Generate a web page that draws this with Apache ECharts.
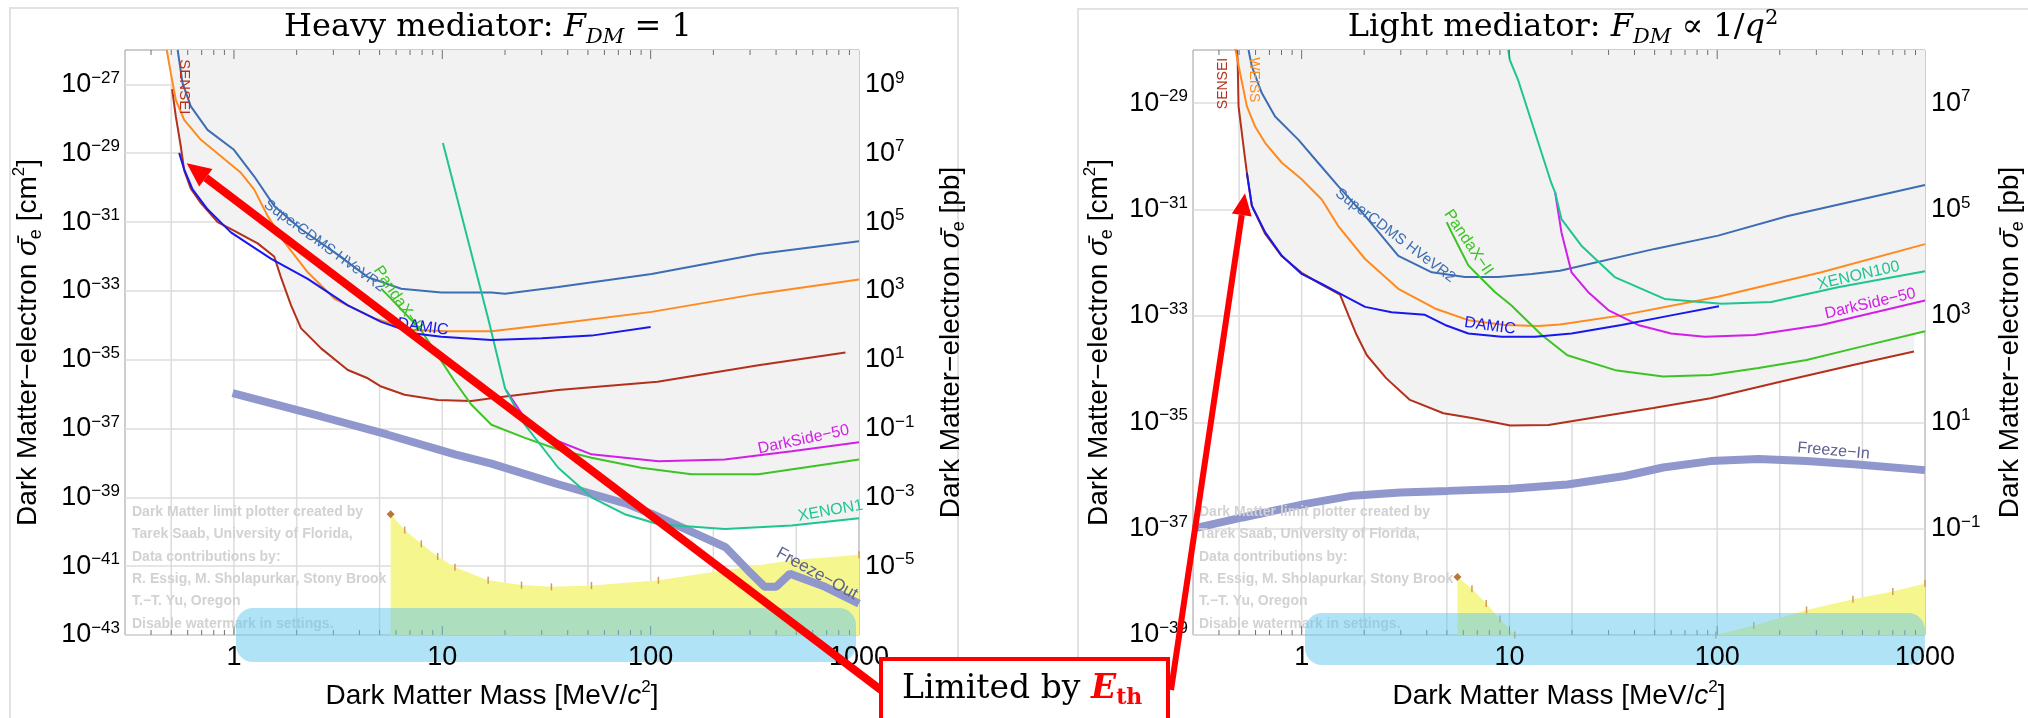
<!DOCTYPE html>
<html>
<head>
<meta charset="utf-8">
<script src="https://cdn.jsdelivr.net/npm/echarts@6/dist/echarts.min.js"></script>
<style>
  html, body { margin: 0; background: #fff; }
  #chart { width: 2028px; height: 718px; }
</style>
</head>
<body>
<div id="chart"></div>
<script>
// ---- axis ticks (mass in MeV, cross sections as log10 of cm^2) ----
const massLabels = [1, 10, 100, 1000];
const massGridLines = [0.5, 1, 2, 5, 10, 20, 50, 100, 200, 500];
const massMinorTicks = [0.4, 0.5, 0.6, 0.7, 0.8, 0.9, 2, 3, 4, 5, 6, 7, 8, 9,
  20, 30, 40, 50, 60, 70, 80, 90, 200, 300, 400, 500, 600, 700, 800, 900];
const massMajorTicks = [1, 10, 100];

// ---- heavy mediator, F_DM = 1 : [mass, log10 sigma_e] ----
const heavySensei = [[0.505, -27.14], [0.526, -27.93], [0.556, -28.8], [0.577, -29.5], [0.62, -30.02],
  [0.694, -30.45], [0.835, -31.0], [1.0, -31.25], [1.3, -31.62], [1.56, -32.0], [1.68, -32.6],
  [1.88, -33.42], [2.1, -34.09], [2.62, -34.67], [3.52, -35.3], [4.39, -35.54], [5.09, -35.78],
  [6.59, -36.02], [9.53, -36.17], [13.8, -36.2], [17.2, -36.12], [36, -35.88], [108, -35.64],
  [329, -35.16], [861, -34.79]];
const heavyEdelweiss = [[0.476, -26.0], [0.498, -26.68], [0.526, -27.45], [0.577, -28.03], [0.694, -28.61],
  [0.866, -29.09], [1.08, -29.57], [1.25, -30.05], [1.45, -30.82], [1.75, -31.59], [2.26, -32.46],
  [3.04, -33.23], [4.73, -33.8], [7.36, -34.14], [10.6, -34.17], [17.2, -34.17], [36, -33.95],
  [101, -33.61], [330, -33.08], [1000, -32.67]];
const heavyCdms = [[0.537, -26.0], [0.546, -26.3], [0.567, -26.97], [0.621, -27.64], [0.747, -28.32],
  [1.0, -28.9], [1.25, -29.67], [1.56, -30.53], [2.1, -31.21], [3.04, -31.88], [4.39, -32.6],
  [6.35, -32.94], [9.9, -33.05], [17.2, -33.05], [20, -33.08], [36, -32.89], [101, -32.51],
  [330, -31.93], [1000, -31.56]];
const heavyDamic = [[0.546, -28.99], [0.577, -29.47], [0.633, -30.05], [0.747, -30.63], [0.967, -31.3],
  [1.51, -32.07], [2.26, -32.65], [3.52, -33.42], [5.09, -33.9], [7.36, -34.24], [9.9, -34.33],
  [17.2, -34.43], [30, -34.38], [52, -34.3], [100, -34.05]];
const heavyPandax = [[5.09, -32.94], [5.48, -33.13], [7.93, -34.15], [11.5, -35.64], [13.8, -36.31],
  [17.2, -36.89], [24.9, -37.27], [36, -37.61], [52, -37.85], [90, -38.14], [157, -38.33],
  [329, -38.33], [1000, -37.9]];
const heavyDarkside = [[20.3, -35.9], [24.9, -36.7], [36, -37.37], [52, -37.75], [109, -37.95],
  [227, -37.9], [475, -37.66], [1000, -37.4]];
const heavyXenon10 = [[10.07, -28.7], [16.6, -33.8], [17.2, -34.19], [20, -35.83], [24.9, -36.89],
  [36, -38.14], [52, -39.0], [75, -39.49], [109, -39.78], [227, -39.92], [475, -39.82], [1000, -39.61]];
const heavyFreezeOut = [[0.985, -35.97], [2.62, -36.65], [5.48, -37.18], [11.5, -37.75], [17.2, -38.02],
  [36, -38.62], [78, -39.2], [102, -39.49], [229, -40.45], [293, -41.12], [353, -41.6], [400, -41.6],
  [466, -41.22], [688, -41.6], [1000, -42.09]];
const heavyFloor = [[5.65, -39.49], [6.6, -39.95], [7.93, -40.35], [9.5, -40.72], [11.5, -41.03],
  [16.6, -41.41], [24, -41.55], [33.4, -41.6], [52, -41.56], [109, -41.41], [227, -41.12],
  [475, -40.83], [1000, -40.67]];
const heavyExcluded = [[0.476, -26.0], [0.498, -26.68], [0.505, -27.14], [0.526, -27.93], [0.546, -28.99],
  [0.577, -29.5], [0.633, -30.05], [0.747, -30.63], [0.967, -31.3], [1.3, -31.69], [1.56, -32.05],
  [1.68, -32.6], [1.88, -33.42], [2.1, -34.09], [2.62, -34.67], [3.52, -35.3], [4.39, -35.54],
  [5.09, -35.78], [6.59, -36.02], [9.53, -36.17], [13.8, -36.31], [17.2, -36.89], [24.9, -37.27],
  [30, -37.55], [36, -38.14], [52, -39.0], [75, -39.49], [109, -39.78], [227, -39.92], [475, -39.82],
  [1000, -39.61]];

// ---- light mediator, F_DM ~ 1/q^2 ----
const lightSensei = [[0.488, -28.0], [0.492, -28.19], [0.497, -29.06], [0.525, -29.81], [0.545, -30.31],
  [0.576, -30.93], [0.668, -31.46], [0.803, -31.88], [1.0, -32.19], [1.25, -32.41], [1.53, -32.6],
  [1.68, -32.99], [1.84, -33.36], [2.06, -33.74], [2.55, -34.17], [3.32, -34.58], [4.81, -34.83],
  [6.6, -34.92], [10.1, -35.06], [15.4, -35.05], [24.8, -34.92], [49.3, -34.73], [93, -34.55],
  [206, -34.23], [456, -33.92], [885, -33.67]];
const lightEdelweiss = [[0.479, -27.97], [0.506, -28.44], [0.545, -29.06], [0.597, -29.44], [0.668, -29.75],
  [0.803, -30.12], [1.0, -30.43], [1.25, -30.81], [1.5, -31.31], [2.02, -31.93], [2.92, -32.49],
  [4.38, -32.86], [6.34, -33.08], [9.5, -33.17], [13.8, -33.19], [17.5, -33.16], [34.6, -32.99],
  [101, -32.64], [317, -32.18], [1000, -31.65]];
const lightCdms = [[0.555, -28.0], [0.576, -28.31], [0.643, -28.81], [0.745, -29.25], [0.966, -29.69],
  [1.2, -30.12], [1.5, -30.56], [2.02, -31.12], [2.92, -31.87], [4.23, -32.18], [6.11, -32.27],
  [8.83, -32.27], [12.8, -32.21], [17.5, -32.15], [50, -31.74], [101, -31.49], [219, -31.12],
  [1000, -30.54]];
const lightDamic = [[0.545, -30.31], [0.576, -30.93], [0.668, -31.43], [0.803, -31.87], [1.0, -32.21],
  [1.25, -32.4], [1.53, -32.58], [2.02, -32.83], [2.71, -32.93], [3.92, -32.98], [4.9, -33.17],
  [6.34, -33.33], [9.17, -33.39], [13.3, -33.39], [19.9, -33.33], [34.6, -33.17], [60, -32.99],
  [102, -32.82]];
const lightPandax = [[4.99, -31.24], [5.27, -31.43], [5.68, -31.68], [6.34, -32.05], [7.08, -32.24],
  [8.51, -32.55], [10.2, -32.8], [12.3, -33.11], [14.3, -33.36], [19.0, -33.74], [32.3, -34.02],
  [54.9, -34.14], [93, -34.11], [158, -33.98], [269, -33.83], [456, -33.61], [1000, -33.29]];
const lightDarkside = [[16.6, -30.68], [17.8, -31.43], [19.9, -32.18], [23.9, -32.55], [29.9, -32.89],
  [41.6, -33.17], [60, -33.33], [87, -33.39], [151, -33.36], [317, -33.17], [1000, -32.71]];
const lightXenon100 = [[9.87, -28.0], [10.05, -28.19], [11.0, -28.56], [13.3, -29.56], [15.9, -30.5],
  [16.6, -30.68], [17.8, -31.18], [22.2, -31.68], [32.1, -32.27], [55.8, -32.68], [105, -32.77],
  [182, -32.74], [381, -32.46], [1000, -32.16]];
const lightFreezeIn = [[0.3, -37.0], [0.52, -36.79], [1.03, -36.54], [1.76, -36.38], [2.98, -36.32],
  [5.06, -36.29], [10.1, -36.25], [19, -36.17], [35.9, -36.01], [54.9, -35.85], [93, -35.73],
  [158, -35.69], [269, -35.73], [456, -35.79], [1000, -35.9]];
const lightFloorA = [[5.62, -37.91], [6.6, -38.13], [7.73, -38.41], [9.0, -38.7], [10.6, -39.0]];
const lightFloorB = [[98.5, -39.0], [150, -38.82], [269, -38.53], [450, -38.33], [700, -38.18], [1000, -38.03]];
const lightExcluded = [[0.479, -27.97], [0.49, -28.15], [0.497, -29.06], [0.525, -29.81], [0.545, -30.31],
  [0.576, -30.93], [0.668, -31.46], [0.803, -31.88], [1.0, -32.21], [1.25, -32.41], [1.53, -32.6],
  [1.68, -32.99], [1.84, -33.36], [2.06, -33.74], [2.55, -34.17], [3.32, -34.58], [4.81, -34.83],
  [6.6, -34.92], [10.1, -35.06], [15.4, -35.05], [24.8, -34.92], [49.3, -34.73], [93, -34.55],
  [206, -34.23], [456, -33.92], [885, -33.67], [890, -33.3], [1000, -33.29]];

// ---- curve labels: text, mass, log10 sigma ----
const heavyTagText = ['SENSEI', 'SuperCDMS HVeVR2', 'PandaX−II', 'DAMIC', 'DarkSide−50', 'XENON1', 'Freeze−Out'];
const heavyTagMass = [0.576, 2.72, 6.12, 8.07, 542, 730, 628];
const heavyTagLog = [-27.07, -31.69, -33.23, -34.05, -37.32, -39.39, -41.22];
const lightTagText = ['SENSEI', 'WEISS', 'SuperCDMS HVeVR2', 'PandaX−II', 'DAMIC', 'XENON100', 'DarkSide−50', 'Freeze−In'];
const lightTagMass = [0.421, 0.587, 2.82, 6.34, 8.06, 479, 545, 363];
const lightTagLog = [-28.63, -28.56, -31.49, -31.62, -33.19, -32.24, -32.77, -35.54];

const watermark = ['Dark Matter limit plotter created by', 'Tarek Saab, University of Florida,',
  'Data contributions by:', 'R. Essig, M. Sholapurkar, Stony Brook', 'T.−T. Yu, Oregon',
  'Disable watermark in settings.'];

const C = {
  sensei: '#b3301c', edelweiss: '#ff8a1e', cdms: '#3d6db3', damic: '#1818ee',
  pandax: '#3cc423', darkside: '#d21ee8', xenon: '#1ec592', freeze: '#8f97cd',
  freezeText: '#5c6190', grid: '#dcdcdc', shade: '#f2f2f2', floor: '#f6f68e'
};
const SANS = '"Liberation Sans", Arial, sans-serif';
const SERIF = '"DejaVu Serif", serif';

const chart = echarts.init(document.getElementById('chart'), null, { renderer: 'canvas' });

const sup = v => '10{s|' + (v < 0 ? '−' + (-v) : v) + '}';
const tickRich = { s: { fontSize: 17, verticalAlign: 'top', lineHeight: 16, fontFamily: SANS, color: '#000' } };
const nameRich = {
  g: { fontSize: 28, fontFamily: SANS, fontStyle: 'italic', lineHeight: 34 },
  b: { fontSize: 18, fontFamily: SANS, verticalAlign: 'bottom', lineHeight: 22 },
  p: { fontSize: 17, fontFamily: SANS, verticalAlign: 'top', lineHeight: 18 },
  i: { fontSize: 28, fontFamily: SANS, fontStyle: 'italic', lineHeight: 34 }
};

function yAxes(gi, min, max, pbMin, pbMax, cmGap, pbGap) {
  const base = {
    type: 'value', gridIndex: gi, interval: 1, axisLine: { show: false }, axisTick: { show: false },
    nameLocation: 'middle', nameRotate: 90,
    nameTextStyle: { fontSize: 28, fontFamily: SANS, color: '#000', lineHeight: 34, rich: nameRich }
  };
  return [
    Object.assign({}, base, {
      position: 'left', min, max, nameGap: cmGap,
      name: 'Dark Matter−electron {g|σ̄}{b|e} [cm{p|2}]',
      splitLine: { show: true, lineStyle: { color: [C.grid, 'rgba(0,0,0,0)'], width: 1.5 } },
      axisLabel: { margin: 5, fontSize: 27, fontFamily: SANS, color: '#000', lineHeight: 30, rich: tickRich,
        formatter: v => (v % 2 !== 0 ? sup(v) : '') }
    }),
    Object.assign({}, base, {
      position: 'right', min: pbMin, max: pbMax, nameGap: pbGap,
      name: 'Dark Matter−electron {g|σ̄}{b|e} [pb]',
      splitLine: { show: false },
      axisLabel: { margin: 6, fontSize: 27, fontFamily: SANS, color: '#000', lineHeight: 30, rich: tickRich,
        formatter: v => (v % 2 !== 0 && v !== pbMin ? sup(v) : '') }
    })
  ];
}

function xAxis(gi) {
  return {
    type: 'log', logBase: 10, gridIndex: gi, min: 0.3, max: 1000, z: 10,
    axisLine: { show: false }, axisTick: { show: false }, splitLine: { show: false },
    axisLabel: { margin: 9, fontSize: 27, fontFamily: SANS, color: '#000',
      formatter: v => (massLabels.includes(Math.round(v * 1000) / 1000) ? String(Math.round(v)) : '') },
    name: 'Dark Matter Mass [MeV/{i|c}{p|2}]', nameLocation: 'middle', nameGap: 44,
    nameTextStyle: { fontSize: 28, fontFamily: SANS, color: '#000', lineHeight: 34, rich: nameRich }
  };
}

function curve(gi, data, color, width, z) {
  return {
    type: 'line', xAxisIndex: gi, yAxisIndex: gi * 2, data, symbol: 'none', showSymbol: false,
    lineStyle: { color, width: width || 2 }, z: z || 3, silent: true, clip: true
  };
}

function shade(gi, data) {
  return {
    type: 'line', xAxisIndex: gi, yAxisIndex: gi * 2, data, symbol: 'none', silent: true,
    lineStyle: { width: 0, opacity: 0 }, areaStyle: { color: C.shade, origin: 'end', opacity: 1 }, z: 1
  };
}

function floor(gi, data, marker) {
  return {
    type: 'line', xAxisIndex: gi, yAxisIndex: gi * 2, silent: true, showSymbol: true,
    symbol: 'rect', symbolSize: [1.5, 7], itemStyle: { color: '#d39a55' },
    data: data.map((p, i) => (i === 0 && marker
      ? { value: p, symbol: 'diamond', symbolSize: 8, itemStyle: { color: '#b8783a' } } : p)),
    lineStyle: { width: 0, opacity: 0 }, areaStyle: { color: C.floor, origin: 'start', opacity: 1 }, z: 1.5
  };
}

function gridLines(gi, yMin, yMax) {
  return {
    type: 'custom', xAxisIndex: gi, yAxisIndex: gi * 2, silent: true, z: 0.5,
    data: massGridLines.map(m => [m, yMin]),
    renderItem: (params, api) => {
      const b = api.coord([api.value(0), yMin]);
      const t = api.coord([api.value(0), yMax]);
      return { type: 'line', shape: { x1: b[0], y1: b[1], x2: t[0], y2: t[1] },
        style: { stroke: C.grid, lineWidth: 1.5 } };
    }
  };
}

function massTicks(gi, yMin, yMax) {
  const data = massMinorTicks.map(m => [m, 0]).concat(massMajorTicks.map(m => [m, 1]));
  return {
    type: 'custom', xAxisIndex: gi, yAxisIndex: gi * 2, silent: true, z: 4,
    data,
    renderItem: (params, api) => {
      const m = api.value(0);
      const len = api.value(1) ? 9 : 5;
      const b = api.coord([m, yMin]);
      const t = api.coord([m, yMax]);
      return { type: 'group', children: [
        { type: 'line', shape: { x1: b[0], y1: b[1], x2: b[0], y2: b[1] - len }, style: { stroke: '#6e6e6e', lineWidth: 1 } },
        { type: 'line', shape: { x1: t[0], y1: t[1], x2: t[0], y2: t[1] + len }, style: { stroke: '#6e6e6e', lineWidth: 1 } }
      ] };
    }
  };
}

const option = {
  animation: false,
  grid: [
    { left: 125, top: 50, width: 734, height: 588, show: true, borderColor: '#9c9c9c', borderWidth: 1, backgroundColor: '#fff' },
    { left: 1193, top: 50, width: 734, height: 588, show: true, borderColor: '#9c9c9c', borderWidth: 1, backgroundColor: '#fff' }
  ],
  xAxis: [xAxis(0), xAxis(1)],
  yAxis: [].concat(yAxes(0, -43, -26, -7, 10, 80, 75), yAxes(1, -39, -28, -3, 8, 77, 68)),
  series: [
    gridLines(0, -43, -26),
    shade(0, heavyExcluded),
    floor(0, heavyFloor, true),
    curve(0, heavyFreezeOut, C.freeze, 8, 2.5),
    curve(0, heavySensei, C.sensei),
    curve(0, heavyEdelweiss, C.edelweiss),
    curve(0, heavyCdms, C.cdms),
    curve(0, heavyPandax, C.pandax),
    curve(0, heavyDarkside, C.darkside),
    curve(0, heavyXenon10, C.xenon),
    curve(0, heavyDamic, C.damic),
    massTicks(0, -43, -26),

    gridLines(1, -39, -28),
    shade(1, lightExcluded),
    floor(1, lightFloorA, true),
    floor(1, lightFloorB, false),
    curve(1, lightFreezeIn, C.freeze, 8, 2.5),
    curve(1, lightSensei, C.sensei),
    curve(1, lightEdelweiss, C.edelweiss),
    curve(1, lightCdms, C.cdms),
    curve(1, lightPandax, C.pandax),
    curve(1, lightDarkside, C.darkside),
    curve(1, lightXenon100, C.xenon),
    curve(1, lightDamic, C.damic),
    massTicks(1, -39, -28)
  ]
};
chart.setOption(option);

// ---- annotations ----
const heavyTagStyle = [[-90, C.sensei, 15], [-36, C.cdms, 15], [-56, C.pandax, 16], [-8, C.damic, 16],
  [12, C.darkside, 16], [10, C.xenon, 16], [-29, C.freezeText, 17]];
const lightTagStyle = [[90, C.sensei, 14], [-90, C.edelweiss, 14], [-37, C.cdms, 15], [-56, C.pandax, 16],
  [-8, C.damic, 16], [13, C.xenon, 16], [13, C.darkside, 16], [-5, C.freezeText, 16]];

function tags(gi, texts, masses, logs, styles) {
  return texts.map((t, i) => {
    const p = chart.convertToPixel({ xAxisIndex: gi, yAxisIndex: gi * 2 }, [masses[i], logs[i]]);
    const s = styles[i];
    return { type: 'text', x: p[0], y: p[1], rotation: s[0] * Math.PI / 180, z: 50, silent: true,
      style: { text: t, fill: s[1], font: s[2] + 'px ' + SANS,
        textAlign: 'center', textVerticalAlign: 'middle', align: 'center', verticalAlign: 'middle' } };
  });
}

function arrow(tail, tip, width, headLen, headHalf) {
  const dx = tip[0] - tail[0], dy = tip[1] - tail[1];
  const len = Math.hypot(dx, dy);
  const ux = dx / len, uy = dy / len;
  const bx = tip[0] - ux * headLen, by = tip[1] - uy * headLen;
  return [
    { type: 'line', z: 60, silent: true, shape: { x1: tail[0], y1: tail[1], x2: bx, y2: by },
      style: { stroke: '#ff0000', lineWidth: width } },
    { type: 'polygon', z: 60, silent: true,
      shape: { points: [tip, [bx - uy * headHalf, by + ux * headHalf], [bx + uy * headHalf, by - ux * headHalf]] },
      style: { fill: '#ff0000' } }
  ];
}

const titleRich = {
  n: { fontFamily: SERIF, fontSize: 32, lineHeight: 40, fill: '#000' },
  i: { fontFamily: SERIF, fontStyle: 'italic', fontSize: 32, lineHeight: 40, fill: '#000' },
  s: { fontFamily: SERIF, fontStyle: 'italic', fontSize: 21, lineHeight: 22, verticalAlign: 'bottom', fill: '#000' },
  p: { fontFamily: SERIF, fontSize: 21, lineHeight: 22, verticalAlign: 'top', fill: '#000' }
};

const graphics = [
  { type: 'rect', z: 0, silent: true, shape: { x: 10, y: 8, width: 948, height: 720 },
    style: { fill: 'rgba(0,0,0,0)', stroke: '#e2e2e2', lineWidth: 2 } },
  { type: 'rect', z: 0, silent: true, shape: { x: 1078, y: 9, width: 960, height: 720 },
    style: { fill: 'rgba(0,0,0,0)', stroke: '#e2e2e2', lineWidth: 2 } },
  { type: 'text', x: 488, y: 28, z: 20, silent: true,
    style: { text: '{n|Heavy mediator: }{i|F}{s|DM}{n| = 1}', rich: titleRich,
      textAlign: 'center', textVerticalAlign: 'middle', align: 'center', verticalAlign: 'middle' } },
  { type: 'text', x: 1563, y: 28, z: 20, silent: true,
    style: { text: '{n|Light mediator: }{i|F}{s|DM}{n| ∝ 1/}{i|q}{p|2}', rich: titleRich,
      textAlign: 'center', textVerticalAlign: 'middle', align: 'center', verticalAlign: 'middle' } },
  { type: 'text', x: 132, y: 501, z: 4, silent: true,
    style: { text: watermark.join('\n'), font: 'bold 14px ' + SANS, fill: '#d2d2d2', lineHeight: 22.3 } },
  { type: 'text', x: 1199, y: 501, z: 4, silent: true,
    style: { text: watermark.join('\n'), font: 'bold 14px ' + SANS, fill: '#d2d2d2', lineHeight: 22.3 } },
  { type: 'rect', z: 5, silent: true, shape: { x: 236, y: 608, width: 620, height: 54, r: 17 },
    style: { fill: 'rgba(100,200,238,0.5)' } },
  { type: 'rect', z: 5, silent: true, shape: { x: 1305, y: 613, width: 620, height: 52, r: 17 },
    style: { fill: 'rgba(100,200,238,0.5)' } }
]
  .concat(tags(0, heavyTagText, heavyTagMass, heavyTagLog, heavyTagStyle))
  .concat(tags(1, lightTagText, lightTagMass, lightTagLog, lightTagStyle))
  .concat(arrow([881, 690], [186.7, 163.3], 8, 24, 11))
  .concat(arrow([1171, 690], [1245, 193.3], 6, 22, 10))
  .concat([
    { type: 'rect', z: 70, silent: true, shape: { x: 881, y: 659, width: 287, height: 80 },
      style: { fill: '#fff', stroke: '#ff0000', lineWidth: 4 } },
    { type: 'text', x: 902, y: 689, z: 71, silent: true,
      style: { text: '{n|Limited by }{e|E}{t|th}',
        rich: {
          n: { fontFamily: SERIF, fontSize: 33, lineHeight: 40, fill: '#000' },
          e: { fontFamily: SERIF, fontSize: 33, fontWeight: 'bold', fontStyle: 'italic', lineHeight: 40, fill: '#ff0000' },
          t: { fontFamily: SERIF, fontSize: 22, fontWeight: 'bold', lineHeight: 22, verticalAlign: 'bottom', fill: '#ff0000' }
        },
        textVerticalAlign: 'middle', verticalAlign: 'middle' } }
  ]);

chart.setOption({ graphic: graphics });
</script>
</body>
</html>
